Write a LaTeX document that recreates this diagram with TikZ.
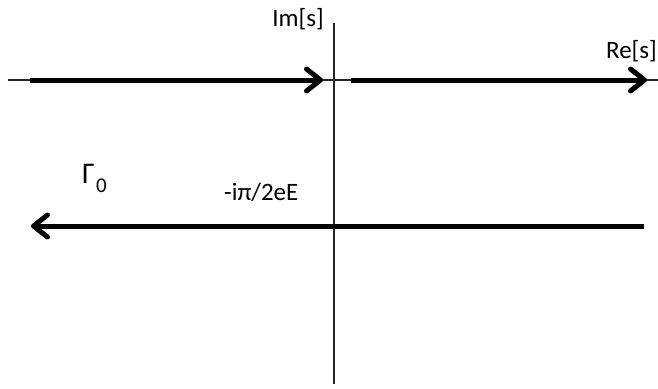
\documentclass[tikz,border=0pt]{standalone}
\usepackage{fontspec}
\setmainfont{Carlito}
\usetikzlibrary{arrows.meta}
\tikzset{
  axisline/.style={line width=1.3pt, black!85},
  contour/.style={line width=5pt, line cap=butt,
    -{Straight Barb[length=14pt,width=22pt,line width=5pt,line cap=round,round]}},
  lbl/.style={inner sep=0pt, font=\fontsize{25}{28}\selectfont}
}
\begin{document}
\begin{tikzpicture}[x=1pt,y=-1pt]
\useasboundingbox (0,0) rectangle (658,388);
% axes
\coordinate (hl) at (8,80);
\coordinate (hr) at (658,80);
\coordinate (vt) at (334,23);
\coordinate (vb) at (334,384);
\draw[axisline] (hl) -- (hr);
\draw[axisline] (vt) -- (vb);
% contour segments
\coordinate (a1s) at (30,80);
\coordinate (a1e) at (323,80);
\coordinate (a2s) at (351,80);
\coordinate (a2e) at (647,80);
\coordinate (a3s) at (644,226);
\coordinate (a3e) at (31,226);
\draw[contour] (a1s) -- (a1e);
\draw[contour] (a2s) -- (a2e);
\draw[contour] (a3s) -- (a3e);
% labels
\node[lbl, anchor=base east] (im) at (324,26) {Im[s]};
\node[lbl, anchor=base east] (re) at (657,58) {Re[s]};
\node[lbl, anchor=base west] (pt) at (224,200) {-iπ/2eE};
\node[inner sep=0pt, anchor=base west, font=\fontsize{30}{32}\selectfont] (gam) at (82,183) {Γ};
\node[inner sep=0pt, anchor=base west, font=\fontsize{21}{24}\selectfont] (sub) at (96,192) {0};
\end{tikzpicture}
\end{document}
